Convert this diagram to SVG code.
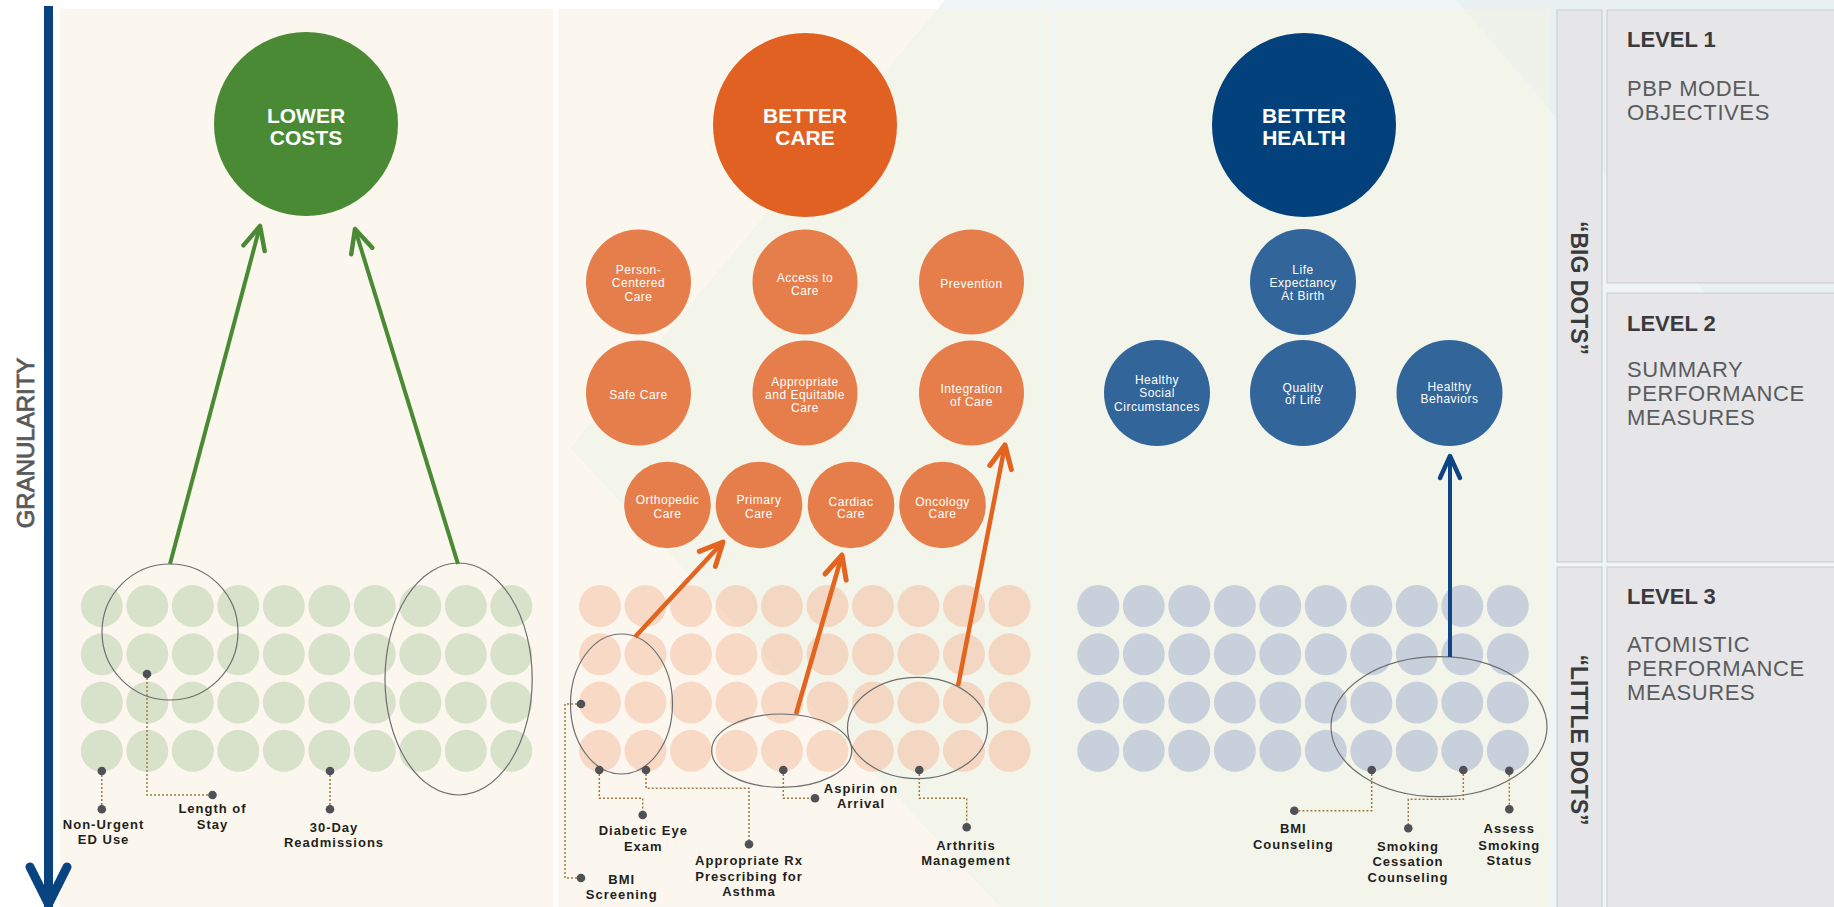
<svg xmlns="http://www.w3.org/2000/svg" xmlns:xlink="http://www.w3.org/1999/xlink" width="1834" height="907" viewBox="0 0 1834 907">
<defs>
<style>
text{font-family:"Liberation Sans",Arial,sans-serif}
.panel{fill:#FBF7EE}
.big{font-size:21px;font-weight:bold;fill:#FFFFFF;text-anchor:middle}
.mid{font-size:12px;fill:#FFFFFF;text-anchor:middle;letter-spacing:0.5px}
.meas{font-size:13px;font-weight:bold;fill:#231F20;text-anchor:middle;letter-spacing:1px}
.ell{fill:none;stroke:#6E6E6E;stroke-width:1.2}
.lead{fill:none;stroke:#9A7A48;stroke-width:1.5;stroke-dasharray:2 2}
.pt{fill:#4F5156}
.box{fill:#E6E6E8;stroke:#CACBCD;stroke-width:1}
.lvl{font-size:22px;font-weight:bold;fill:#3A3A3C}
.desc{font-size:22px;fill:#5A5B5D;letter-spacing:0.6px}
.side{font-size:23px;font-weight:bold;fill:#3A3A3C;text-anchor:middle}
.orange{fill:#E57E4A}
.blue{fill:#32659A}
.arG{fill:none;stroke:#4A8A35;stroke-width:4}
.arO{fill:none;stroke:#E2641F;stroke-width:4.5}
.arB{fill:none;stroke:#0D4585;stroke-width:4}
</style>
<clipPath id="panelsClip">
<rect x="60" y="9" width="493" height="898"/>
<rect x="558" y="9" width="494" height="898"/>
<rect x="1056" y="9" width="494" height="898"/>
</clipPath>
<g id="dotrow">
<circle cx="0" cy="0" r="21"/><circle cx="45.5" cy="0" r="21"/><circle cx="91" cy="0" r="21"/><circle cx="136.5" cy="0" r="21"/><circle cx="182" cy="0" r="21"/><circle cx="227.5" cy="0" r="21"/><circle cx="273" cy="0" r="21"/><circle cx="318.5" cy="0" r="21"/><circle cx="364" cy="0" r="21"/><circle cx="409.5" cy="0" r="21"/>
</g>
<marker id="mG" markerUnits="userSpaceOnUse" markerWidth="40" markerHeight="40" viewBox="-30 -20 40 40" refX="0" refY="0" orient="auto">
<path d="M-23,-11 L0,0 L-23,11" fill="none" stroke="#4A8A35" stroke-width="4.5" stroke-linecap="round" stroke-linejoin="round"/>
</marker>
<marker id="mO" markerUnits="userSpaceOnUse" markerWidth="40" markerHeight="40" viewBox="-30 -20 40 40" refX="0" refY="0" orient="auto">
<path d="M-23,-11 L0,0 L-23,11" fill="none" stroke="#E2641F" stroke-width="5" stroke-linecap="round" stroke-linejoin="round"/>
</marker>
<marker id="mB" markerUnits="userSpaceOnUse" markerWidth="40" markerHeight="40" viewBox="-30 -20 40 40" refX="0" refY="0" orient="auto">
<path d="M-22,-10 L0,0 L-22,10" fill="none" stroke="#0D4585" stroke-width="4.5" stroke-linecap="round" stroke-linejoin="round"/>
</marker>
</defs>

<!-- background -->
<rect x="0" y="0" width="1834" height="907" fill="#FFFFFF"/>
<polygon points="945,0 570,448 1000,907 1834,907 1834,0" fill="#EFF5F5"/>
<polygon points="1456,0 1834,0 1834,443" fill="#E8F0F0"/>

<!-- panels -->
<g id="panels">
<rect class="panel" x="60" y="9" width="493" height="898"/>
<rect class="panel" x="558" y="9" width="494" height="898"/>
<rect class="panel" x="1056" y="9" width="494" height="898"/>
<g clip-path="url(#panelsClip)">
<polygon points="945,0 570,448 1000,907 1834,907 1834,0" fill="#F4F5EA"/>
<polygon points="1456,0 1834,0 1834,443" fill="#EEF2EB"/>
</g>
</g>

<!-- granularity axis -->
<g id="granularity">
<rect x="44" y="6" width="9" height="901" fill="#0A4480"/>
<polyline points="30,867 48.5,904 67,867" fill="none" stroke="#0A4480" stroke-width="9" stroke-linecap="round" stroke-linejoin="round"/>
<text transform="translate(33.5,443) rotate(-90)" text-anchor="middle" font-size="24" fill="#58595B" stroke="#58595B" stroke-width="0.8">GRANULARITY</text>
</g>

<!-- right legend -->
<g id="legend-big-dots">
<rect class="box" x="1557" y="10" width="45" height="552"/>
<text class="side" transform="translate(1571,288) rotate(90)">“BIG DOTS”</text>
</g>
<g id="legend-little-dots">
<rect class="box" x="1557" y="567" width="45" height="345"/>
<text class="side" transform="translate(1571,740) rotate(90)">“LITTLE DOTS”</text>
</g>
<g id="level-1">
<rect class="box" x="1607" y="10" width="240" height="273"/>
<text class="lvl" x="1627" y="47">LEVEL 1</text>
<text class="desc" x="1627" y="96">PBP MODEL</text>
<text class="desc" x="1627" y="120">OBJECTIVES</text>
</g>
<g id="level-2">
<rect class="box" x="1607" y="293" width="240" height="269"/>
<text class="lvl" x="1627" y="331">LEVEL 2</text>
<text class="desc" x="1627" y="377">SUMMARY</text>
<text class="desc" x="1627" y="401">PERFORMANCE</text>
<text class="desc" x="1627" y="425">MEASURES</text>
</g>
<g id="level-3">
<rect class="box" x="1607" y="567" width="240" height="345"/>
<text class="lvl" x="1627" y="604">LEVEL 3</text>
<text class="desc" x="1627" y="652">ATOMISTIC</text>
<text class="desc" x="1627" y="676">PERFORMANCE</text>
<text class="desc" x="1627" y="700">MEASURES</text>
</g>

<!-- little dots -->
<g id="little-dots-costs" fill="#D8E2CB">
<use xlink:href="#dotrow" href="#dotrow" x="101.8" y="606"/>
<use xlink:href="#dotrow" href="#dotrow" x="101.8" y="654.3"/>
<use xlink:href="#dotrow" href="#dotrow" x="101.8" y="702.6"/>
<use xlink:href="#dotrow" href="#dotrow" x="101.8" y="750.8"/>
</g>
<g id="little-dots-care" fill="#F0A47E" fill-opacity="0.36">
<use xlink:href="#dotrow" href="#dotrow" x="600" y="606"/>
<use xlink:href="#dotrow" href="#dotrow" x="600" y="654.3"/>
<use xlink:href="#dotrow" href="#dotrow" x="600" y="702.6"/>
<use xlink:href="#dotrow" href="#dotrow" x="600" y="750.8"/>
</g>
<g id="little-dots-health" fill="#C8D0DB">
<use xlink:href="#dotrow" href="#dotrow" x="1098.3" y="606"/>
<use xlink:href="#dotrow" href="#dotrow" x="1098.3" y="654.3"/>
<use xlink:href="#dotrow" href="#dotrow" x="1098.3" y="702.6"/>
<use xlink:href="#dotrow" href="#dotrow" x="1098.3" y="750.8"/>
</g>

<!-- groupings -->
<g id="groupings">
<circle class="ell" cx="170" cy="632" r="68"/>
<ellipse class="ell" cx="458.6" cy="679" rx="73.6" ry="116"/>
<ellipse class="ell" cx="621.5" cy="704" rx="51" ry="70"/>
<ellipse class="ell" cx="781.7" cy="750.7" rx="70" ry="36.7"/>
<ellipse class="ell" cx="917.5" cy="728" rx="70" ry="50.7"/>
<ellipse class="ell" cx="1439" cy="726.7" rx="108" ry="70"/>
</g>

<!-- level 1 nodes -->
<g id="lower-costs">
<circle cx="306" cy="124" r="92" fill="#4A8A35"/>
<text class="big" x="306" y="123">LOWER</text>
<text class="big" x="306" y="145">COSTS</text>
</g>
<g id="better-care">
<circle cx="805" cy="125" r="92" fill="#E06122"/>
<text class="big" x="805" y="123">BETTER</text>
<text class="big" x="805" y="145">CARE</text>
</g>
<g id="better-health">
<circle cx="1304" cy="125" r="92" fill="#03417D"/>
<text class="big" x="1304" y="123">BETTER</text>
<text class="big" x="1304" y="145">HEALTH</text>
</g>

<!-- level 2 care nodes -->
<g id="person-centered-care">
<circle class="orange" cx="638.5" cy="282" r="52.5"/>
<text class="mid" x="638.5" y="274">Person-</text>
<text class="mid" x="638.5" y="287">Centered</text>
<text class="mid" x="638.5" y="300.5">Care</text>
</g>
<g id="access-to-care">
<circle class="orange" cx="805" cy="282" r="52.5"/>
<text class="mid" x="805" y="282">Access to</text>
<text class="mid" x="805" y="295">Care</text>
</g>
<g id="prevention">
<circle class="orange" cx="971.5" cy="282" r="52.5"/>
<text class="mid" x="971.5" y="287.5">Prevention</text>
</g>
<g id="safe-care">
<circle class="orange" cx="638.5" cy="393" r="52.5"/>
<text class="mid" x="638.5" y="398.5">Safe Care</text>
</g>
<g id="appropriate-equitable-care">
<circle class="orange" cx="805" cy="393" r="52.5"/>
<text class="mid" x="805" y="386">Appropriate</text>
<text class="mid" x="805" y="398.5">and Equitable</text>
<text class="mid" x="805" y="412">Care</text>
</g>
<g id="integration-of-care">
<circle class="orange" cx="971.5" cy="393" r="52.5"/>
<text class="mid" x="971.5" y="393">Integration</text>
<text class="mid" x="971.5" y="406">of Care</text>
</g>
<g id="orthopedic-care">
<circle class="orange" cx="667.5" cy="505" r="43.3"/>
<text class="mid" x="667.5" y="504">Orthopedic</text>
<text class="mid" x="667.5" y="518">Care</text>
</g>
<g id="primary-care">
<circle class="orange" cx="759" cy="505" r="43.3"/>
<text class="mid" x="759" y="504">Primary</text>
<text class="mid" x="759" y="518">Care</text>
</g>
<g id="cardiac-care">
<circle class="orange" cx="851" cy="505" r="43.3"/>
<text class="mid" x="851" y="505.5">Cardiac</text>
<text class="mid" x="851" y="518">Care</text>
</g>
<g id="oncology-care">
<circle class="orange" cx="942.5" cy="505" r="43.3"/>
<text class="mid" x="942.5" y="505.5">Oncology</text>
<text class="mid" x="942.5" y="518">Care</text>
</g>

<!-- level 2 health nodes -->
<g id="life-expectancy">
<circle class="blue" cx="1303" cy="282" r="53"/>
<text class="mid" x="1303" y="274">Life</text>
<text class="mid" x="1303" y="287">Expectancy</text>
<text class="mid" x="1303" y="300">At Birth</text>
</g>
<g id="healthy-social-circumstances">
<circle class="blue" cx="1157" cy="393" r="53"/>
<text class="mid" x="1157" y="384">Healthy</text>
<text class="mid" x="1157" y="397">Social</text>
<text class="mid" x="1157" y="410.5">Circumstances</text>
</g>
<g id="quality-of-life">
<circle class="blue" cx="1303" cy="393" r="53"/>
<text class="mid" x="1303" y="391.5">Quality</text>
<text class="mid" x="1303" y="404">of Life</text>
</g>
<g id="healthy-behaviors">
<circle class="blue" cx="1449.5" cy="393" r="53"/>
<text class="mid" x="1449.5" y="390.5">Healthy</text>
<text class="mid" x="1449.5" y="403">Behaviors</text>
</g>

<!-- connectors -->
<g id="connectors">
<path class="arG" d="M170,564 L260,226" marker-end="url(#mG)"/>
<path class="arG" d="M458,564 L355,229" marker-end="url(#mG)"/>
<path class="arO" d="M635,637 L723,542" marker-end="url(#mO)"/>
<path class="arO" d="M796,714 L842,555" marker-end="url(#mO)"/>
<path class="arO" d="M958,686 L1005,445" marker-end="url(#mO)"/>
<path class="arB" d="M1450,657 L1450,456" marker-end="url(#mB)"/>
<path class="lead" d="M101.8,771 V809"/>
<path class="lead" d="M147,674 V795 H212.5"/>
<path class="lead" d="M330,771 V809"/>
<path class="lead" d="M581,704 H565 V878 H581"/>
<path class="lead" d="M599.3,770 V798.3 H642.7 V815"/>
<path class="lead" d="M646,770 V788.3 H749 V844.3"/>
<path class="lead" d="M783.3,770 V798.3 H815"/>
<path class="lead" d="M919.3,770 V798.3 H966.7 V827.3"/>
<path class="lead" d="M1371.7,770 V810.7 H1294.3"/>
<path class="lead" d="M1463.3,770 V799.3 H1408.3 V828.3"/>
<path class="lead" d="M1509.3,770.7 V809.3"/>
</g>

<!-- measure labels -->
<g id="non-urgent-ed-use">
<circle class="pt" cx="101.8" cy="771" r="4.3"/><circle class="pt" cx="101.8" cy="809.3" r="4.3"/>
<text class="meas" x="103.6" y="829">Non-Urgent</text>
<text class="meas" x="103.6" y="844">ED Use</text>
</g>
<g id="length-of-stay">
<circle class="pt" cx="147" cy="674" r="4.3"/><circle class="pt" cx="212.5" cy="795" r="4.3"/>
<text class="meas" x="212.5" y="813">Length of</text>
<text class="meas" x="212.5" y="829">Stay</text>
</g>
<g id="readmissions">
<circle class="pt" cx="330" cy="771" r="4.3"/><circle class="pt" cx="330" cy="809.3" r="4.3"/>
<text class="meas" x="334" y="832">30-Day</text>
<text class="meas" x="334" y="847">Readmissions</text>
</g>
<g id="bmi-screening">
<circle class="pt" cx="581" cy="704" r="4.3"/><circle class="pt" cx="581" cy="878" r="4.3"/>
<text class="meas" x="621.7" y="884">BMI</text>
<text class="meas" x="621.7" y="899">Screening</text>
</g>
<g id="diabetic-eye-exam">
<circle class="pt" cx="599.3" cy="770" r="4.3"/><circle class="pt" cx="642.7" cy="815" r="4.3"/>
<text class="meas" x="643.3" y="834.5">Diabetic Eye</text>
<text class="meas" x="643.3" y="851">Exam</text>
</g>
<g id="appropriate-rx">
<circle class="pt" cx="646" cy="770" r="4.3"/><circle class="pt" cx="749" cy="844.3" r="4.3"/>
<text class="meas" x="749" y="865">Appropriate Rx</text>
<text class="meas" x="749" y="881">Prescribing for</text>
<text class="meas" x="749" y="896">Asthma</text>
</g>
<g id="aspirin-on-arrival">
<circle class="pt" cx="783.3" cy="770" r="4.3"/><circle class="pt" cx="815" cy="798.3" r="4.3"/>
<text class="meas" x="861" y="793">Aspirin on</text>
<text class="meas" x="861" y="808">Arrival</text>
</g>
<g id="arthritis-management">
<circle class="pt" cx="919.3" cy="770" r="4.3"/><circle class="pt" cx="966.7" cy="827.3" r="4.3"/>
<text class="meas" x="966" y="849.5">Arthritis</text>
<text class="meas" x="966" y="864.5">Management</text>
</g>
<g id="bmi-counseling">
<circle class="pt" cx="1371.7" cy="770" r="4.3"/><circle class="pt" cx="1294.3" cy="810.7" r="4.3"/>
<text class="meas" x="1293.3" y="833">BMI</text>
<text class="meas" x="1293.3" y="849">Counseling</text>
</g>
<g id="smoking-cessation-counseling">
<circle class="pt" cx="1463.3" cy="770" r="4.3"/><circle class="pt" cx="1408.3" cy="828.3" r="4.3"/>
<text class="meas" x="1408" y="850.5">Smoking</text>
<text class="meas" x="1408" y="866">Cessation</text>
<text class="meas" x="1408" y="882">Counseling</text>
</g>
<g id="assess-smoking-status">
<circle class="pt" cx="1509.3" cy="770.7" r="4.3"/><circle class="pt" cx="1509.3" cy="809.3" r="4.3"/>
<text class="meas" x="1509.3" y="833">Assess</text>
<text class="meas" x="1509.3" y="849.5">Smoking</text>
<text class="meas" x="1509.3" y="864.5">Status</text>
</g>
</svg>
